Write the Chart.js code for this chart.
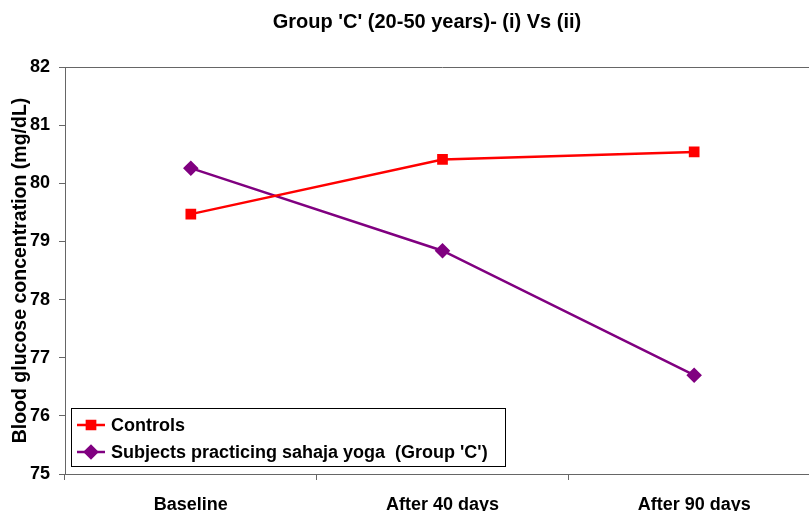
<!DOCTYPE html>
<html>
<head>
<meta charset="utf-8">
<script src="https://cdn.jsdelivr.net/npm/chart.js@4/dist/chart.umd.min.js"></script>
<style>
  html, body { margin: 0; padding: 0; background: #fff; overflow: hidden; }
  #wrap { position: relative; width: 854px; height: 511px; }
</style>
</head>
<body>
<div id="wrap"><canvas id="c" width="854" height="511"></canvas></div>
<script>
// Blood glucose (mg/dL) at each visit
const categories = ['Baseline', 'After 40 days', 'After 90 days'];
const controls = [79.47, 80.41, 80.54];
const sahajaYoga = [80.26, 78.84, 76.70];
const yMin = 75;
const yMax = 82;
const yStep = 1;

const FONT = '"Liberation Sans", Arial, sans-serif';
const AXIS_COLOR = '#666';

// Plot-area top and right border
const frameTop = {
  id: 'frameTop',
  beforeDatasetsDraw(chart) {
    const { ctx, chartArea } = chart;
    ctx.save();
    ctx.strokeStyle = AXIS_COLOR;
    ctx.lineWidth = 1;
    ctx.beginPath();
    ctx.moveTo(chartArea.left, Math.round(chartArea.top) + 0.5);
    ctx.lineTo(chartArea.right, Math.round(chartArea.top) + 0.5);
    ctx.moveTo(Math.round(chartArea.right) + 0.5, chartArea.top);
    ctx.lineTo(Math.round(chartArea.right) + 0.5, chartArea.bottom);
    ctx.stroke();
    ctx.restore();
  }
};

// Boxed legend in the lower-left corner of the plot area
const boxLegend = {
  id: 'boxLegend',
  afterDatasetsDraw(chart) {
    const { ctx, chartArea } = chart;
    const w = 434, h = 58;
    const x0 = Math.round(chartArea.left) + 6;
    const y0 = Math.round(chartArea.bottom) - 8 - h;
    ctx.save();
    ctx.fillStyle = '#fff';
    ctx.fillRect(x0, y0, w, h);
    ctx.strokeStyle = '#000';
    ctx.lineWidth = 1;
    ctx.strokeRect(x0 + 0.5, y0 + 0.5, w, h);
    chart.data.datasets.forEach((ds, i) => {
      const cy = y0 + 17 + i * 27;
      ctx.strokeStyle = ds.borderColor;
      ctx.lineWidth = ds.borderWidth;
      ctx.beginPath();
      ctx.moveTo(x0 + 6, cy);
      ctx.lineTo(x0 + 34, cy);
      ctx.stroke();
      ctx.fillStyle = ds.pointBackgroundColor;
      ctx.strokeStyle = ds.pointBorderColor;
      Chart.helpers.drawPoint(ctx, {
        pointStyle: ds.pointStyle,
        radius: ds.pointRadius,
        borderWidth: 1,
        rotation: 0
      }, x0 + 20, cy);
      ctx.fillStyle = '#000';
      ctx.font = 'bold 18px ' + FONT;
      ctx.textBaseline = 'middle';
      ctx.textAlign = 'left';
      ctx.fillText(ds.label, x0 + 40, cy + 1);
    });
    ctx.restore();
  }
};

new Chart(document.getElementById('c'), {
  type: 'line',
  data: {
    labels: categories,
    datasets: [
      {
        label: 'Controls',
        data: controls,
        borderColor: '#ff0000',
        backgroundColor: '#ff0000',
        pointBackgroundColor: '#ff0000',
        pointBorderColor: '#ff0000',
        borderWidth: 2.5,
        pointStyle: 'rect',
        pointRadius: 5.8,
        tension: 0
      },
      {
        label: "Subjects practicing sahaja yoga  (Group 'C')",
        data: sahajaYoga,
        borderColor: '#800080',
        backgroundColor: '#800080',
        pointBackgroundColor: '#800080',
        pointBorderColor: '#800080',
        borderWidth: 2.5,
        pointStyle: 'rectRot',
        pointRadius: 6,
        tension: 0
      }
    ]
  },
  options: {
    responsive: false,
    animation: false,
    devicePixelRatio: 1,
    layout: { padding: 0 },
    plugins: {
      legend: { display: false },
      tooltip: { enabled: false },
      title: {
        display: true,
        text: "Group 'C' (20-50 years)- (i) Vs (ii)",
        color: '#000',
        font: { family: FONT, size: 20, weight: 'bold', lineHeight: 1.2 },
        padding: { top: 10, bottom: 33 }
      }
    },
    scales: {
      x: {
        type: 'category',
        offset: true,
        border: { display: true, color: AXIS_COLOR, width: 1 },
        grid: {
          offset: true,
          drawOnChartArea: false,
          drawTicks: true,
          tickLength: 6,
          color: AXIS_COLOR
        },
        ticks: {
          color: '#000',
          padding: 14,
          maxRotation: 0,
          autoSkip: false,
          font: { family: FONT, size: 18, weight: 'bold' }
        },
        afterFit(scale) { scale.height = 37; }
      },
      y: {
        min: yMin,
        max: yMax,
        border: { display: true, color: AXIS_COLOR, width: 1 },
        grid: {
          drawOnChartArea: false,
          drawTicks: true,
          tickLength: 6,
          color: AXIS_COLOR
        },
        ticks: {
          stepSize: yStep,
          color: '#000',
          padding: 9,
          font: { family: FONT, size: 18, weight: 'bold' }
        },
        title: {
          display: true,
          text: 'Blood glucose concentration (mg/dL)',
          color: '#000',
          font: { family: FONT, size: 19.5, weight: 'bold', lineHeight: 1.2 },
          padding: { top: 9, bottom: 0 }
        },
        afterFit(scale) { scale.width = 65; }
      },
      // empty right-hand gutter of the chart
      yRight: {
        position: 'right',
        display: true,
        min: yMin,
        max: yMax,
        border: { display: false },
        grid: { display: false, drawTicks: false },
        ticks: { display: false },
        afterFit(scale) { scale.width = 34; }
      }
    }
  },
  plugins: [frameTop, boxLegend]
});
</script>
</body>
</html>
